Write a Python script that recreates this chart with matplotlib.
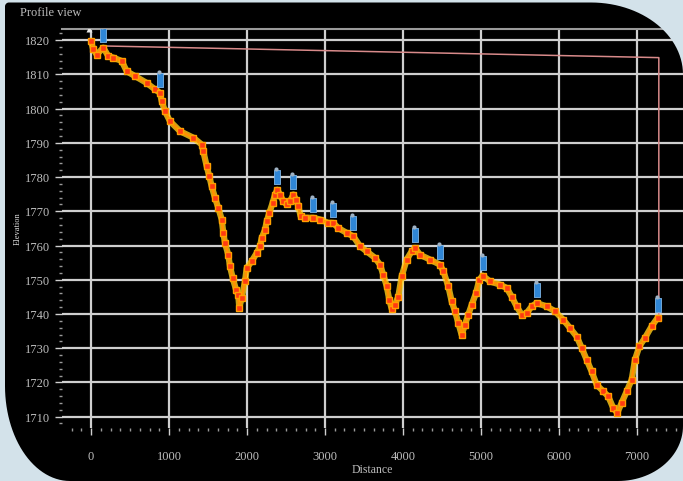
import numpy as np
import matplotlib
matplotlib.use("Agg")
from matplotlib import pyplot as plt
from matplotlib.path import Path
from matplotlib.patches import PathPatch
from matplotlib.ticker import MultipleLocator
from matplotlib.transforms import offset_copy

# track profile: distance (m) / elevation (m)
distance = [0, 29, 73, 158, 222, 286, 394, 458, 564, 714, 821, 885, 906, 949, 1013,
            1141, 1312, 1419, 1440, 1483, 1517, 1547, 1590, 1632, 1676, 1696, 1718,
            1760, 1782, 1817, 1859, 1888, 1901, 1932, 1974, 1996, 2060, 2124, 2167,
            2188, 2231, 2253, 2286, 2329, 2359, 2388, 2423, 2465, 2509, 2551, 2594,
            2628, 2658, 2688, 2743, 2850, 2936, 3042, 3106, 3170, 3278, 3363, 3449,
            3534, 3641, 3705, 3747, 3791, 3824, 3855, 3897, 3940, 3983, 4047, 4111,
            4154, 4218, 4346, 4474, 4517, 4581, 4624, 4667, 4709, 4752, 4795, 4837,
            4881, 4936, 4978, 5022, 5115, 5243, 5329, 5393, 5457, 5522, 5586, 5650,
            5714, 5842, 5948, 6055, 6141, 6227, 6291, 6355, 6419, 6483, 6568, 6632,
            6696, 6747, 6803, 6868, 6932, 6974, 7029, 7102, 7188, 7265]
elevation = [1819.7, 1817.3, 1815.8, 1817.8, 1815.3, 1814.9, 1813.9, 1810.9, 1809.5,
             1807.5, 1805.6, 1804.6, 1802.2, 1799.2, 1796.3, 1793.4, 1791.5, 1789.5,
             1787.5, 1783.2, 1780.2, 1777.3, 1773.9, 1771.0, 1767.6, 1763.7, 1760.7,
             1757.3, 1753.9, 1750.5, 1747.1, 1745.6, 1741.8, 1744.7, 1749.5, 1753.4,
             1755.4, 1757.8, 1759.8, 1762.2, 1764.6, 1767.1, 1769.5, 1772.5, 1774.9,
             1776.3, 1774.9, 1772.9, 1772.0, 1772.9, 1774.9, 1773.4, 1771.5, 1768.5,
             1768.1, 1768.1, 1767.6, 1766.6, 1766.6, 1765.1, 1763.7, 1762.7, 1759.8,
             1758.3, 1756.4, 1754.4, 1751.5, 1748.1, 1744.2, 1741.5, 1742.7, 1745.1,
             1751.0, 1755.9, 1758.3, 1759.3, 1757.3, 1755.9, 1754.4, 1752.5, 1748.1,
             1743.7, 1740.8, 1737.4, 1733.9, 1736.9, 1739.8, 1742.7, 1746.1, 1750.0,
             1751.2, 1749.5, 1748.6, 1747.6, 1745.1, 1742.2, 1739.8, 1740.3, 1742.2,
             1743.2, 1742.2, 1740.8, 1738.3, 1735.9, 1733.4, 1730.1, 1726.6, 1723.2,
             1719.3, 1717.4, 1715.9, 1712.5, 1711.1, 1714.0, 1717.4, 1720.8, 1726.6,
             1730.5, 1733.0, 1736.4, 1738.9]

# waypoints (blue flags)
wpt_dist = [158, 885, 2388, 2594, 2850, 3106, 3363, 4154, 4474, 5022, 5714, 7265]
wpt_elev = [1817.8, 1804.6, 1776.3, 1774.9, 1768.1, 1766.6, 1762.7, 1759.3, 1754.4,
            1751.2, 1743.2, 1738.9]

# straight red reference line start -> end
ref_dist = [180, 7280, 7280]
ref_elev = [1818.3, 1814.9, 1738.9]

x_ticks = [0, 1000, 2000, 3000, 4000, 5000, 6000, 7000]
y_ticks = [1710, 1720, 1730, 1740, 1750, 1760, 1770, 1780, 1790, 1800, 1810, 1820]

W, H = 683, 481
BG = '#d3e2ea'
GRID = '#cfcfcf'
TXT = '#bdbdbd'

fig = plt.figure(figsize=(6.83, 4.815), dpi=100, facecolor='black')
ax = fig.add_axes([62 / W, 1 - 428 / H, 1 - 62 / W, (428 - 29) / H])
ax.set_facecolor('black')

ax.set_xlim(-372, 7590)
ax.set_ylim(1706.7, 1823.4)
ax.set_xticks(x_ticks)
ax.set_yticks(y_ticks)
ax.xaxis.set_minor_locator(MultipleLocator(125))
ax.yaxis.set_minor_locator(MultipleLocator(2))
ax.grid(True, which='major', color=GRID, lw=1.6)
ax.set_axisbelow(True)
for s in ax.spines.values():
    s.set_visible(False)
ax.spines['top'].set_visible(True)
ax.spines['top'].set_color('#9a9a9a')
ax.spines['top'].set_linewidth(1.5)

ax.tick_params(which='major', colors='#cfcfcf', length=5, width=1,
               labelcolor=TXT, labelsize=9)
ax.tick_params(which='minor', colors='#9a9a9a', length=2, width=1)
ax.tick_params(axis='x', pad=11)
for lab in ax.get_xticklabels() + ax.get_yticklabels():
    lab.set_family('Liberation Serif')

ax.set_xlabel('Distance', color=TXT, fontsize=8.5, family='Liberation Serif', labelpad=1)
ax.set_ylabel('Elevation', color='#dddddd', fontsize=6, family='Liberation Serif', labelpad=2)

# reference line
ax.plot(ref_dist, ref_elev, color='#d88a8a', lw=1.1, zorder=3)

# track: glow, line, markers
ax.plot(distance, elevation, color='#ffcf1a', lw=4.5, alpha=0.8, zorder=4,
        solid_capstyle='round', solid_joinstyle='round')
ax.plot(distance, elevation, color='#ff9000', lw=2, zorder=5)
ax.plot(distance, elevation, 's', ms=4.2, mfc='#ff3a12', mec='#ffa000', mew=1, zorder=6)

# waypoint flags above the track
flag = [(-0.4, -1), (0.4, -1), (0.4, 1), (-0.4, 1), (-0.4, -1)]
up = offset_copy(ax.transData, fig=fig, x=0, y=13, units='dots')
cap = offset_copy(ax.transData, fig=fig, x=-1, y=21, units='dots')
ax.plot(wpt_dist, wpt_elev, ls='none', marker=flag, ms=10, mfc='#2f86d6',
        mec='#7fb6e8', mew=0.6, transform=up, zorder=7)
ax.plot(wpt_dist, wpt_elev, ls='none', marker='o', ms=3, mfc='#9fb2c4',
        mec='none', transform=cap, zorder=7)
start_up = offset_copy(ax.transData, fig=fig, x=-2, y=12, units='dots')
ax.plot([distance[0]], [elevation[0]], ls='none', marker='^', ms=5, mfc='#e8e8e8',
        mec='none', transform=start_up, zorder=7)

fig.text(20 / W, 1 - 13 / H, 'Profile view', color=TXT, fontsize=9,
         family='Liberation Serif', va='center', ha='left')


# light blue frame around the rounded black panel
def corner(cx, cy, rx, ry, a0, a1):
    t = np.linspace(np.radians(a0), np.radians(a1), 30)
    return list(zip(cx + rx * np.cos(t), cy + ry * np.sin(t)))

# pixel coords, y down; converted below
pts = []
pts += corner(9, 7, 4, 4, 180, 270)          # top-left
pts += corner(591, 75, 92, 72, 270, 360)     # top-right
pts += corner(618, 426, 65, 55, 0, 90)       # bottom-right
pts += corner(70, 386, 65, 95, 90, 180)      # bottom-left
inner = [(x / W, 1 - y / H) for x, y in pts]
outer = [(-0.01, -0.01), (1.01, -0.01), (1.01, 1.01), (-0.01, 1.01)]
verts = outer + [outer[0]] + inner + [inner[0]]
codes = ([Path.MOVETO] + [Path.LINETO] * 3 + [Path.CLOSEPOLY]
         + [Path.MOVETO] + [Path.LINETO] * (len(inner) - 1) + [Path.CLOSEPOLY])
frame = PathPatch(Path(verts, codes), facecolor=BG, edgecolor='none',
                  transform=fig.transFigure, zorder=20)
fig.patches.append(frame)

fig.savefig('out.png', dpi=100, facecolor='black')
